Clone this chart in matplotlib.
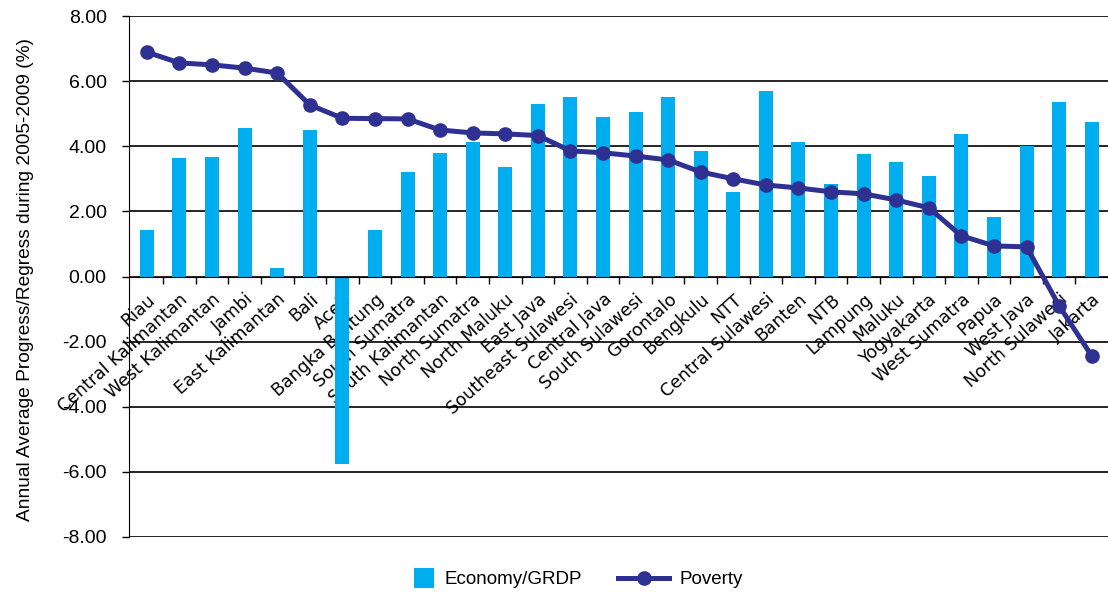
import numpy as np
import matplotlib.pyplot as plt
from matplotlib.patches import Rectangle
from matplotlib.legend_handler import HandlerPatch

provinces = ["Riau", "Central Kalimantan", "West Kalimantan", "Jambi", "East Kalimantan",
             "Bali", "Aceh", "Bangka Belitung", "South Sumatra", "South Kalimantan",
             "North Sumatra", "North Maluku", "East Java", "Southeast Sulawesi", "Central Java",
             "South Sulawesi", "Gorontalo", "Bengkulu", "NTT", "Central Sulawesi",
             "Banten", "NTB", "Lampung", "Maluku", "Yogyakarta",
             "West Sumatra", "Papua", "West Java", "North Sulawesi", "Jakarta"]

# annual average growth of GRDP (%)
economy = [1.43, 3.64, 3.67, 4.56, 0.27, 4.50, -5.75, 1.43, 3.21, 3.80,
           4.13, 3.37, 5.30, 5.51, 4.90, 5.05, 5.51, 3.86, 2.60, 5.70,
           4.13, 2.84, 3.77, 3.52, 3.09, 4.38, 1.83, 4.01, 5.36, 4.75]

# annual average poverty reduction (%)
poverty = [6.89, 6.56, 6.50, 6.40, 6.25, 5.27, 4.86, 4.85, 4.84, 4.50,
           4.41, 4.38, 4.33, 3.86, 3.80, 3.70, 3.58, 3.21, 3.00, 2.81,
           2.72, 2.60, 2.54, 2.35, 2.11, 1.25, 0.94, 0.91, -0.90, -2.44]

yticks = np.arange(-8, 9, 2)

BAR_BLUE = "#00AEEF"
NAVY = "#2E3192"


def square_patch(legend, orig_handle, xdescent, ydescent, width, height, fontsize):
    # small square swatch, pushed to the right end of the handle box
    side = height * 1.55
    return Rectangle((width - xdescent - side, -ydescent + (height - side) / 2), side, side)


fig = plt.figure(figsize=(11.08, 5.94), dpi=100)
ax = fig.add_axes([0.1164, 0.096, 0.8836, 0.877])

x = np.arange(len(provinces))
bars = ax.bar(x, economy, width=0.43, color=BAR_BLUE, zorder=2, label="Economy/GRDP")
line, = ax.plot(x, poverty, color=NAVY, lw=3.6, marker="o", ms=9.5, zorder=4, label="Poverty")

ax.set_xlim(-0.55, len(provinces) - 0.5)
ax.set_ylim(-8, 8)

# horizontal grid
for y in yticks:
    ax.axhline(y, color="black", lw=1.2, zorder=1)

ax.set_yticks(yticks)
ax.set_yticklabels([f"{v:.2f}" for v in yticks], fontfamily="Liberation Sans", fontsize=14)
ax.tick_params(axis="y", length=5, width=1, pad=11)

# category axis sits on the zero line
ax.spines["bottom"].set_position(("data", 0))
ax.spines["bottom"].set_zorder(3)
for s in ["top", "right"]:
    ax.spines[s].set_visible(False)
ax.set_xticks(x)
ax.set_xticklabels(provinces, rotation=42, ha="right", rotation_mode="anchor",
                   fontfamily="DejaVu Sans", fontsize=12.5)
ax.tick_params(axis="x", which="major", length=0, pad=10)
ax.set_xticks(x[:-1] + 0.5, minor=True)
ax.tick_params(axis="x", which="minor", length=5, width=1, direction="out")

ax.set_ylabel("Annual Average Progress/Regress during 2005-2009 (%)",
              fontfamily="Liberation Sans", fontsize=13.8, labelpad=0)
ax.yaxis.set_label_coords(-0.097, 0.495)

swatch = bars.patches[0]
fig.legend([swatch, line], ["Economy/GRDP", "Poverty"],
           loc="center", bbox_to_anchor=(0.508, 0.024), ncol=2, frameon=False,
           prop={"family": "Liberation Sans", "size": 13.5}, handlelength=2.75,
           columnspacing=1.9, handletextpad=0.55,
           handler_map={swatch: HandlerPatch(patch_func=square_patch)})

fig.savefig("out.png", dpi=100)
